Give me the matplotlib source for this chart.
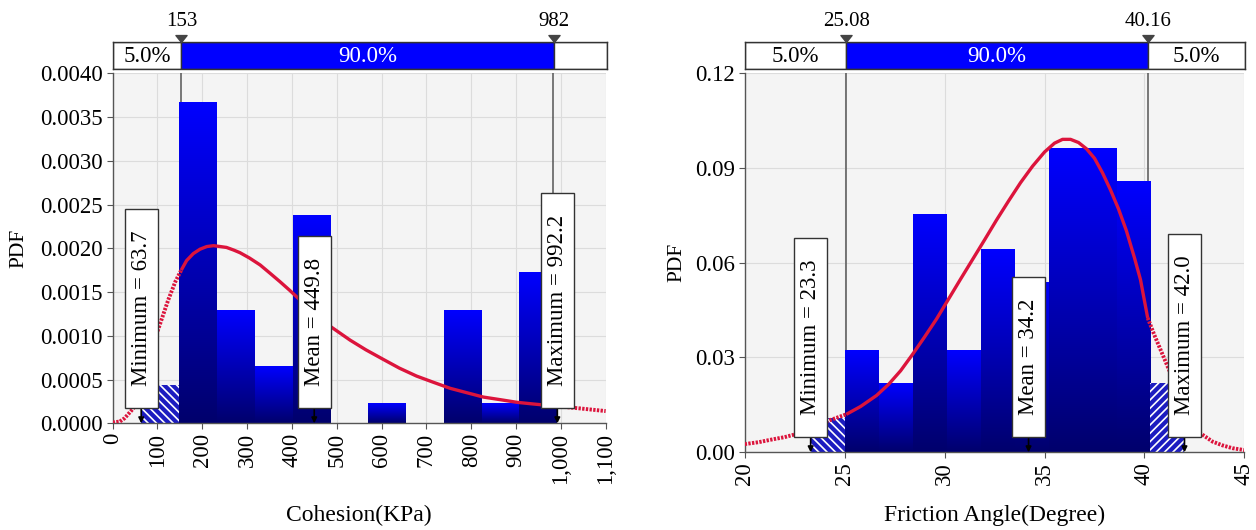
import numpy as np
import matplotlib
matplotlib.use("Agg")
import matplotlib.pyplot as plt
from matplotlib.colors import LinearSegmentedColormap
from matplotlib.patches import Rectangle
from matplotlib.path import Path

plt.rcParams['font.family'] = 'Liberation Serif'
plt.rcParams['hatch.linewidth'] = 1.2

# --- Cohesion (KPa) -------------------------------------------------------
cohesion_edges = [63.7, 148.1, 232.5, 316.9, 401.3, 485.7, 570.1, 654.5,
                  738.9, 823.3, 907.7, 992.2]
cohesion_pdf = [0.00044, 0.00366, 0.00129, 0.00065, 0.00237, 0.0,
                0.00022, 0.0, 0.00129, 0.00022, 0.00172]
cohesion_fit_x = [0, 16, 27, 46, 68, 85, 100, 124, 140, 153, 165, 180, 195,
                  210, 225, 240, 254, 270, 284, 305, 329, 350, 373, 395, 418,
                  450, 485, 530, 565, 604, 640, 678, 715, 753, 790, 827, 865,
                  902, 940, 982, 1043, 1100]
cohesion_fit_y = [0.00001, 0.00002, 0.00006, 0.00017, 0.00050, 0.00080,
                  0.00105, 0.00141, 0.00162, 0.00175, 0.00186, 0.00194,
                  0.00199, 0.00202, 0.00203, 0.00202, 0.00201, 0.00198,
                  0.00195, 0.00189, 0.00181, 0.00172, 0.00162, 0.00152,
                  0.00141, 0.00126, 0.00111, 0.00095, 0.00084, 0.00073,
                  0.00063, 0.00054, 0.00047, 0.00040, 0.00035, 0.00030,
                  0.00027, 0.00024, 0.00022, 0.00020, 0.00017, 0.00014]
cohesion_p5, cohesion_p95 = 153, 982
cohesion_p_labels = ["153", "982"]
cohesion_stats = [("Minimum", 63.7), ("Mean", 449.8), ("Maximum", 992.2)]
cohesion_xticks = [0, 100, 200, 300, 400, 500, 600, 700, 800, 900, 1000, 1100]
cohesion_yticks = [0.0, 0.0005, 0.0010, 0.0015, 0.0020, 0.0025, 0.0030,
                   0.0035, 0.0040]

# --- Friction angle (Degree) ----------------------------------------------
friction_edges = [23.3, 25.0, 26.7, 28.4, 30.1, 31.8, 33.5, 35.2, 36.9,
                  38.6, 40.3, 42.0]
friction_pdf = [0.0109, 0.0320, 0.0218, 0.0750, 0.0320, 0.0641, 0.0536,
                0.0961, 0.0961, 0.0857, 0.0218]
friction_fit_x = [20.0, 20.7, 21.4, 22.0, 22.6, 23.3, 24.1, 25.08, 25.8,
                  26.6, 27.2, 27.8, 28.4, 29.0, 29.6, 30.2, 30.8, 31.4, 32.0,
                  32.6, 33.2, 33.8, 34.4, 35.0, 35.5, 35.9, 36.3, 36.7, 37.1,
                  37.5, 37.9, 38.3, 38.7, 39.1, 39.5, 39.8, 40.16, 40.5,
                  40.8, 41.3, 41.7, 42.0, 42.4, 42.8, 43.4, 43.9, 44.4, 45.0]
friction_fit_y = [0.0026, 0.0032, 0.0041, 0.0048, 0.0058, 0.0072, 0.0098,
                  0.0120, 0.0145, 0.0180, 0.0215, 0.0258, 0.0310, 0.0365,
                  0.0422, 0.0485, 0.0548, 0.0610, 0.0672, 0.0735, 0.0795,
                  0.0853, 0.0905, 0.0950, 0.0978, 0.0990, 0.0990, 0.0980,
                  0.0960, 0.0930, 0.0884, 0.0830, 0.0770, 0.0700, 0.0615,
                  0.0546, 0.0425, 0.0370, 0.0325, 0.0250, 0.0190, 0.0150,
                  0.0100, 0.0060, 0.0034, 0.0022, 0.0013, 0.0007]
friction_p5, friction_p95 = 25.08, 40.16
friction_p_labels = ["25.08", "40.16"]
friction_stats = [("Minimum", 23.3), ("Mean", 34.2), ("Maximum", 42.0)]
friction_xticks = [20, 25, 30, 35, 40, 45]
friction_yticks = [0.0, 0.03, 0.06, 0.09, 0.12]

BAR_CMAP = LinearSegmentedColormap.from_list("bar_fill", ["#00006c", "#0000ff"])
FIT_COLOR = "#dc143c"
FRAME = "#555555"


def label_box(x0, y0, width, height, mutation_size):
    """Rectangle with long padding along the text and a tight one across it."""
    padx = 0.95 * mutation_size
    pady = 0.26 * mutation_size
    x0, y0 = x0 - padx, y0 - pady
    x1, y1 = x0 + width + 2 * padx, y0 + height + 2 * pady
    return Path([(x0, y0), (x1, y0), (x1, y1), (x0, y1), (x0, y0)],
                closed=True)


def draw_panel(fig, main_rect, bar_rect, edges, pdf, fit_x, fit_y, p5, p95,
               p_labels, stats, xticks, yticks, xfmt, yfmt, xlabel,
               xlabel_y, ylabel_x):
    ax = fig.add_axes(main_rect)
    ax.set_facecolor("#f4f4f4")
    xmin, xmax = xticks[0], xticks[-1]

    # percentile guide lines
    for p in (p5, p95):
        ax.axvline(p, color=FRAME, lw=1.1, zorder=1.5)

    # histogram: gradient bars inside, hatched bars in the tails
    for i, h in enumerate(pdf):
        x0, x1 = edges[i], edges[i + 1]
        if h <= 0:
            continue
        centre = 0.5 * (x0 + x1)
        if centre < p5 or centre > p95:
            hatch = "\\\\\\\\" if centre < p5 else "////"
            ax.add_patch(Rectangle((x0, 0), x1 - x0, h, facecolor="#1c1cc0",
                                   edgecolor="white", lw=0, hatch=hatch,
                                   zorder=2))
        else:
            grad = np.linspace(0, 1, 256).reshape(-1, 1)
            ax.imshow(grad, extent=(x0, x1, 0, h), origin="lower",
                      cmap=BAR_CMAP, aspect="auto", zorder=2,
                      interpolation="bilinear")

    # fitted PDF: solid inside the 90% band, dotted outside
    fx = np.array(fit_x)
    fy = np.array(fit_y)
    inside = (fx >= p5) & (fx <= p95)
    low = fx <= p5
    high = fx >= p95
    ax.plot(fx[inside], fy[inside], color=FIT_COLOR, lw=2.4, zorder=4,
            solid_capstyle="butt", solid_joinstyle="round")
    for m in (low, high):
        ax.plot(fx[m], fy[m], color=FIT_COLOR, lw=2.8, zorder=4,
                linestyle=(0, (0.6, 0.35)))

    # statistic call-outs
    for name, val in stats:
        ax.annotate(f"{name} = {val:.1f}", xy=(val, 0), xytext=(0, 37),
                    textcoords="offset pixels", rotation=90, ha="center",
                    va="bottom", fontsize=16.5, zorder=6,
                    bbox=dict(boxstyle=label_box, facecolor="white",
                              edgecolor="#333333", lw=1),
                    arrowprops=dict(arrowstyle="-|>", color="black", lw=1.2,
                                    mutation_scale=8, shrinkA=0, shrinkB=0))

    ax.set_xlim(xmin, xmax)
    ax.set_ylim(yticks[0], yticks[-1])
    ax.set_xticks(xticks)
    ax.set_yticks(yticks)
    ax.set_xticklabels([xfmt(t) for t in xticks])
    ax.set_yticklabels([yfmt(t) for t in yticks])
    ax.tick_params(axis="both", direction="out", length=4, color=FRAME,
                   labelsize=16.5, pad=3)
    ax.tick_params(axis="x", labelrotation=90)
    ax.grid(True, color="#dcdcdc", lw=0.8)
    ax.set_axisbelow(True)
    for side in ("top", "right"):
        ax.spines[side].set_visible(False)
    for side in ("left", "bottom"):
        ax.spines[side].set_color(FRAME)
        ax.spines[side].set_linewidth(1.0)
    ax.set_xlabel(xlabel, fontsize=17)
    ax.xaxis.set_label_coords(0.5, xlabel_y)
    ax.set_ylabel("PDF", fontsize=15.5)
    ax.yaxis.set_label_coords(ylabel_x, 0.5)

    # percentile band above the plot
    bar = fig.add_axes(bar_rect)
    bar.set_xlim(xmin, xmax)
    bar.set_ylim(0, 1)
    bar.set_xticks([])
    bar.set_yticks([])
    for s in bar.spines.values():
        s.set_color("#333333")
        s.set_linewidth(1.0)
    segments = [(xmin, p5, "white", "black"), (p5, p95, "#0000ff", "white"),
                (p95, xmax, "white", "black")]
    span = xmax - xmin
    for a, b, fc, tc in segments:
        bar.barh(0.5, b - a, left=a, height=1, color=fc, edgecolor="#333333",
                 lw=1)
        if (b - a) / span > 0.12:
            share = 90.0 if fc != "white" else 5.0
            bar.text(0.5 * (a + b), 0.45, f"{share:.1f}%", color=tc,
                     ha="center", va="center", fontsize=16.5)
    tri = [(0, 0), (-0.8, 1), (0.8, 1), (0, 0)]
    for p, lab in zip((p5, p95), p_labels):
        bar.plot([p], [1], marker=tri, ms=10, color="#444444", clip_on=False,
                 zorder=5)
        bar.annotate(lab, xy=(p, 1), xytext=(0, 11), textcoords="offset pixels",
                     ha="center", va="bottom", fontsize=15,
                     annotation_clip=False)
    return ax


fig = plt.figure(figsize=(12.56, 5.30), dpi=100)

draw_panel(fig, [0.0897, 0.2013, 0.3925, 0.6604],
           [0.0897, 0.8692, 0.3933, 0.0521],
           cohesion_edges, cohesion_pdf, cohesion_fit_x, cohesion_fit_y,
           cohesion_p5, cohesion_p95, cohesion_p_labels, cohesion_stats,
           cohesion_xticks, cohesion_yticks,
           lambda t: f"{t:,.0f}", lambda t: f"{t:.4f}",
           "Cohesion(KPa)", -0.233, -0.17)

draw_panel(fig, [0.5929, 0.1466, 0.3979, 0.7157],
           [0.5929, 0.8692, 0.3983, 0.0521],
           friction_edges, friction_pdf, friction_fit_x, friction_fit_y,
           friction_p5, friction_p95, friction_p_labels, friction_stats,
           friction_xticks, friction_yticks,
           lambda t: f"{t:.0f}", lambda t: f"{t:.2f}",
           "Friction Angle(Degree)", -0.139, -0.117)

fig.savefig("out.png", dpi=100)
